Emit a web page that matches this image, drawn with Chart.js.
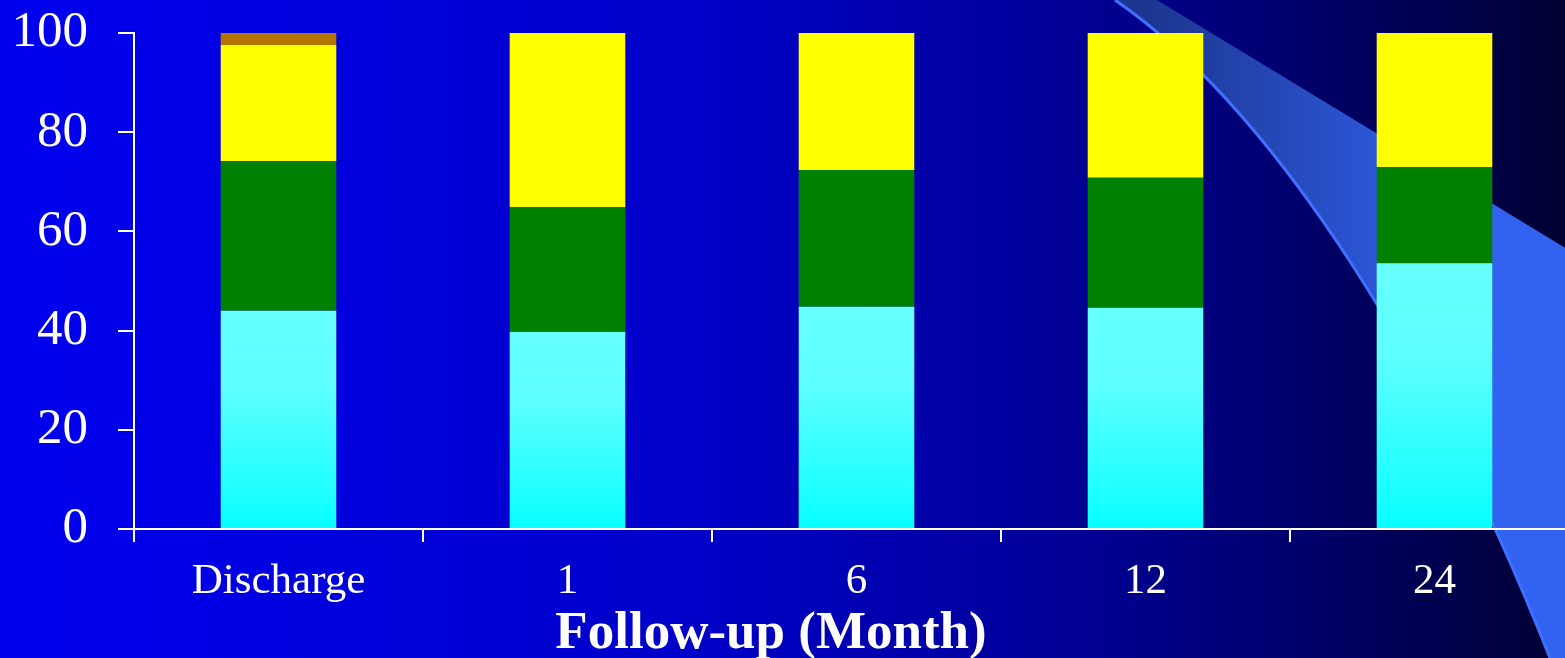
<!DOCTYPE html>
<html>
<head>
<meta charset="utf-8">
<script src="https://cdn.jsdelivr.net/npm/chart.js@4.4.0/dist/chart.umd.min.js"></script>
<style>
  html, body { margin: 0; padding: 0; overflow: hidden; }
  body {
    width: 1565px; height: 658px;
    background: linear-gradient(to right, #0000f0 0%, #0000c8 45%, #000092 70%, #000066 85%, #000033 100%);
  }
  #wrap { position: absolute; left: 0; top: 0; width: 1600px; height: 658px; }
</style>
</head>
<body>
<div id="wrap"><canvas id="followChart"></canvas></div>
<script>
// Stacked percentages per follow-up visit
const categories = ['Discharge', '1', '6', '12', '24'];
const cyanValues   = [44.0, 39.7, 44.8, 44.6, 53.6];
const greenValues  = [30.2, 25.2, 27.6, 26.2, 19.4];
const yellowValues = [23.4, 35.1, 27.6, 29.2, 27.0];
const brownValues  = [2.4, 0, 0, 0, 0];
const yTicks = [0, 20, 40, 60, 80, 100];

const serif = "'Liberation Serif', 'Times New Roman', serif";

// decorative swoosh of the slide background
const swooshPlugin = {
    id: 'swoosh',
    beforeDraw(chart) {
        const ctx = chart.ctx;
        ctx.save();
        const g = ctx.createLinearGradient(1150, 0, 1460, 0);
        g.addColorStop(0, '#1c3690');
        g.addColorStop(0.5, '#274cc0');
        g.addColorStop(1, '#3162f0');
        ctx.beginPath();
        ctx.moveTo(1115, 0);
        ctx.lineTo(1157, 0);
        ctx.lineTo(1600, 269);
        ctx.lineTo(1600, 658);
        ctx.lineTo(1550, 658);
        ctx.bezierCurveTo(1420, 330, 1260, 100, 1115, 0);
        ctx.closePath();
        ctx.fillStyle = g;
        ctx.fill();
        ctx.beginPath();
        ctx.moveTo(1115, 0);
        ctx.bezierCurveTo(1260, 100, 1420, 330, 1550, 658);
        ctx.strokeStyle = '#3f70ff';
        ctx.lineWidth = 3;
        ctx.stroke();
        ctx.restore();
    }
};

// x axis title, sits left of the axis centre in the original
const axisTitlePlugin = {
    id: 'axisTitle',
    afterDraw(chart) {
        const ctx = chart.ctx;
        ctx.save();
        ctx.font = "bold 53px " + serif;
        ctx.fillStyle = '#ffffff';
        ctx.textAlign = 'center';
        ctx.textBaseline = 'alphabetic';
        ctx.fillText('Follow-up (Month)', 771, 648);
        ctx.restore();
    }
};

function cyanFill(context) {
    const chart = context.chart;
    const y = chart.scales.y;
    if (!chart.chartArea || !y) return '#33ffff';
    const top = y.getPixelForValue(context.raw || 0);
    const bottom = y.getPixelForValue(0);
    if (!isFinite(top) || bottom - top < 1) return '#33ffff';
    const g = chart.ctx.createLinearGradient(0, top, 0, bottom);
    g.addColorStop(0, '#66ffff');
    g.addColorStop(0.35, '#5effff');
    g.addColorStop(1, '#08ffff');
    return g;
}

const canvas = document.getElementById('followChart');
new Chart(canvas.getContext('2d'), {
    type: 'bar',
    data: {
        labels: categories,
        datasets: [
            { label: 'Series 1', data: cyanValues, backgroundColor: cyanFill },
            { label: 'Series 2', data: greenValues, backgroundColor: '#008000' },
            { label: 'Series 3', data: yellowValues, backgroundColor: '#ffff00' },
            { label: 'Series 4', data: brownValues, backgroundColor: '#b37400' }
        ]
    },
    options: {
        responsive: true,
        maintainAspectRatio: false,
        animation: false,
        layout: { padding: { top: 33, right: 21, left: 0, bottom: 0 } },
        datasets: { bar: { barPercentage: 0.4, categoryPercentage: 1.0, borderWidth: 0 } },
        plugins: { legend: { display: false }, tooltip: { enabled: false } },
        scales: {
            x: {
                stacked: true,
                afterFit(scale) { scale.height = 129; },
                border: { color: '#ffffff', width: 2 },
                grid: { display: true, drawOnChartArea: false, offset: true, color: '#ffffff', lineWidth: 2, tickLength: 13 },
                ticks: { color: '#ffffff', padding: 14, font: { family: serif, size: 43 } }
            },
            y: {
                stacked: true,
                min: 0,
                max: 100,
                afterFit(scale) {
                    scale.width = 134;
                    scale.paddingTop = 0;
                    scale.paddingBottom = 0;
                },
                afterBuildTicks(scale) { scale.ticks = yTicks.map(v => ({ value: v })); },
                border: { color: '#ffffff', width: 2 },
                grid: { display: true, drawOnChartArea: false, color: '#ffffff', lineWidth: 2, tickLength: 16 },
                ticks: { color: '#ffffff', padding: 30, font: { family: serif, size: 51 } }
            }
        }
    },
    plugins: [swooshPlugin, axisTitlePlugin]
});
</script>
</body>
</html>
